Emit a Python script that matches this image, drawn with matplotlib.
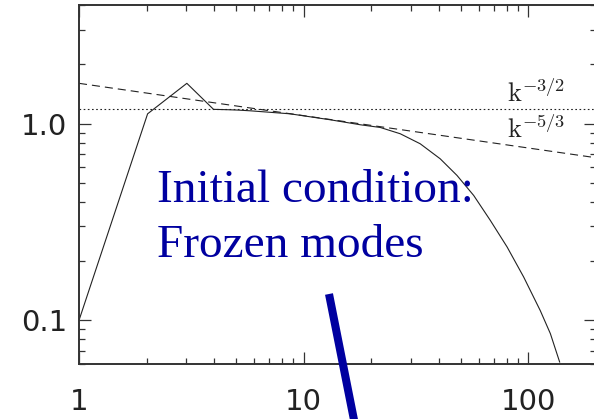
import matplotlib
matplotlib.use("Agg")
import matplotlib.pyplot as plt
from matplotlib.lines import Line2D
from matplotlib.ticker import LogLocator, FixedLocator, NullFormatter

# Data
k_spec = [1, 2.02, 3.02, 3.97, 4.6, 5.1, 5.8, 8.7, 13.1, 17.9, 21.9, 26.9, 33.0, 40.5, 48.1,
          57.1, 67.7, 80.4, 95.3, 113, 125.3, 137.8]
E_spec = [0.1, 1.12, 1.60, 1.18, 1.175, 1.17, 1.16, 1.12, 1.045, 0.985, 0.955, 0.887, 0.789, 0.662, 0.545,
          0.431, 0.322, 0.236, 0.166, 0.112, 0.0856, 0.0614]
k_dash = [1, 200]
E_dash = [1.6, 0.67]
k_dot = [1, 200]
E_dot = [1.18, 1.18]
x_ticks = [1, 10, 100]
x_ticklabels = ["1", "10", "100"]
y_ticks = [0.1, 1.0]
y_ticklabels = ["0.1", "1.0"]

plt.rcParams['lines.scale_dashes'] = False
plt.rcParams['mathtext.fontset'] = 'cm'

fig = plt.figure(figsize=(5.94, 4.19), dpi=100)
ax = fig.add_axes([79/594, 55/419, (596-79)/594, (364-5)/419])
ax.set_xscale('log')
ax.set_yscale('log')
ax.set_xlim(1, 200)
ax.set_ylim(0.06, 4.0)

ax.plot(k_spec, E_spec, color='#222222', lw=0.8)
ax.plot(k_dash, E_dash, color='#222222', lw=0.8, dashes=(5.8, 3.6))
ax.plot(k_dot, E_dot, color='#222222', lw=0.8, dashes=(1.2, 1.8))

ax.text(80.6, 1.28, r'$\mathrm{k}^{-3/2}$', fontsize=19, color='#222222', ha='left', va='baseline')
ax.text(80.6, 0.84, r'$\mathrm{k}^{-5/3}$', fontsize=19, color='#222222', ha='left', va='baseline')

ax.text(157/594, 1 - 257/419, "Initial condition:\nFrozen modes", transform=fig.transFigure,
        fontsize=34, family='Liberation Serif', color='#0000A0', ha='left', va='baseline',
        linespacing=1.4)

# annotation stroke
fig.add_artist(Line2D([329/594, 356/594], [1 - 294/419, 1 - 430/419], transform=fig.transFigure,
                      color='#0000A0', lw=5.8, solid_capstyle='butt'))

ax.xaxis.set_major_locator(FixedLocator(x_ticks))
ax.set_xticklabels(x_ticklabels)
ax.yaxis.set_major_locator(FixedLocator(y_ticks))
ax.set_yticklabels(y_ticklabels)
ax.xaxis.set_minor_locator(LogLocator(base=10, subs=range(2, 10)))
ax.yaxis.set_minor_locator(LogLocator(base=10, subs=range(2, 10)))
ax.xaxis.set_minor_formatter(NullFormatter())
ax.yaxis.set_minor_formatter(NullFormatter())

ax.tick_params(which='both', direction='in', top=True, right=True, color='#333333', width=0.9)
ax.tick_params(which='major', length=8.6)
ax.tick_params(which='minor', length=4.3)
ax.tick_params(axis='x', which='major', pad=17, labelsize=21, labelcolor='#222222')
ax.tick_params(axis='y', which='major', pad=8.5, labelsize=21, labelcolor='#222222')
for s in ax.spines.values():
    s.set_linewidth(1.4)
    s.set_color('#333333')

fig.savefig('out.png', dpi=100)
